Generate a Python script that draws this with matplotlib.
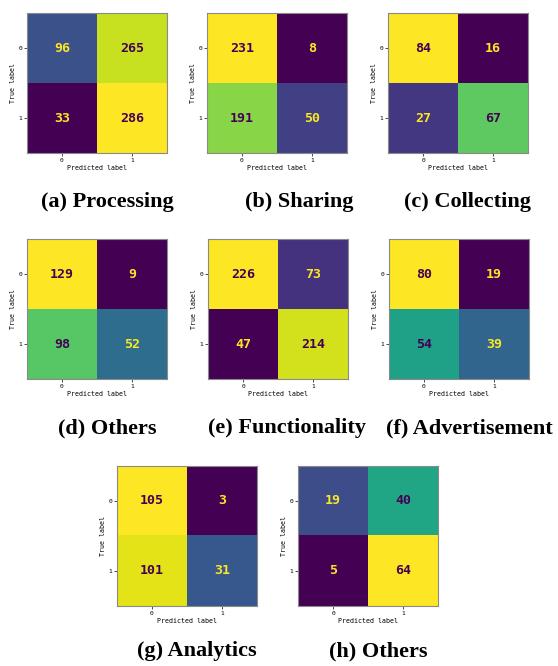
import numpy as np
import matplotlib
matplotlib.use('Agg')
import matplotlib.pyplot as plt

# --- Confusion matrices (rows: true label, cols: predicted label) ---
cm_processing = [[96, 265], [33, 286]]
cm_sharing = [[231, 8], [191, 50]]
cm_collecting = [[84, 16], [27, 67]]
cm_others_1 = [[129, 9], [98, 52]]
cm_functionality = [[226, 73], [47, 214]]
cm_advertisement = [[80, 19], [54, 39]]
cm_analytics = [[105, 3], [101, 31]]
cm_others_2 = [[19, 40], [5, 64]]

captions = ['(a) Processing', '(b) Sharing', '(c) Collecting',
            '(d) Others', '(e) Functionality', '(f) Advertisement',
            '(g) Analytics', '(h) Others']
matrices = [cm_processing, cm_sharing, cm_collecting,
            cm_others_1, cm_functionality, cm_advertisement,
            cm_analytics, cm_others_2]
tick_labels = ['0', '1']

# --- layout in pixels (left, top) of each heatmap box ---
W, H = 558, 666
box = 140
boxes = [(27, 13), (207, 13), (388, 13),
         (27, 239), (208, 239), (389, 239),
         (117, 466), (298, 466)]
# caption centre x and baseline y, in pixels
cap_pos = [(107, 207), (299, 207), (468, 207),
           (107, 433), (287, 433), (469, 433),
           (197, 656), (378, 656)]

plt.rcParams['font.family'] = 'DejaVu Sans Mono'
cmap = plt.get_cmap('viridis')

fig = plt.figure(figsize=(W / 100, H / 100), dpi=100)

for cm, (bx, by), cap, (cx, cy) in zip(matrices, boxes, captions, cap_pos):
    cm = np.array(cm)
    ax = fig.add_axes([bx / W, 1 - (by + box) / H, box / W, box / H])
    ax.imshow(cm, cmap=cmap, interpolation='nearest', aspect='auto')
    thresh = (cm.max() + cm.min()) / 2.0
    for i in range(2):
        for j in range(2):
            col = cmap(1.0) if cm[i, j] < thresh else cmap(0.0)
            ax.text(j, i, str(cm[i, j]), ha='center', va='center',
                    color=col, fontsize=9.5, fontweight='bold')
    ax.set_xticks([0, 1])
    ax.set_yticks([0, 1])
    ax.set_xticklabels(tick_labels)
    ax.set_yticklabels(tick_labels)
    ax.tick_params(labelsize=4.5, length=2, width=0.5, pad=1.5)
    ax.set_xlabel('Predicted label', fontsize=4.8, labelpad=1.5)
    ax.set_ylabel('True label', fontsize=4.8, labelpad=1.5)
    for s in ax.spines.values():
        s.set_color('#8a8a8a')
        s.set_linewidth(0.8)
    fig.text(cx / W, 1 - cy / H, cap, ha='center', va='baseline',
             fontsize=16, fontweight='bold', family='Liberation Serif')

fig.savefig('out.png', dpi=100)
